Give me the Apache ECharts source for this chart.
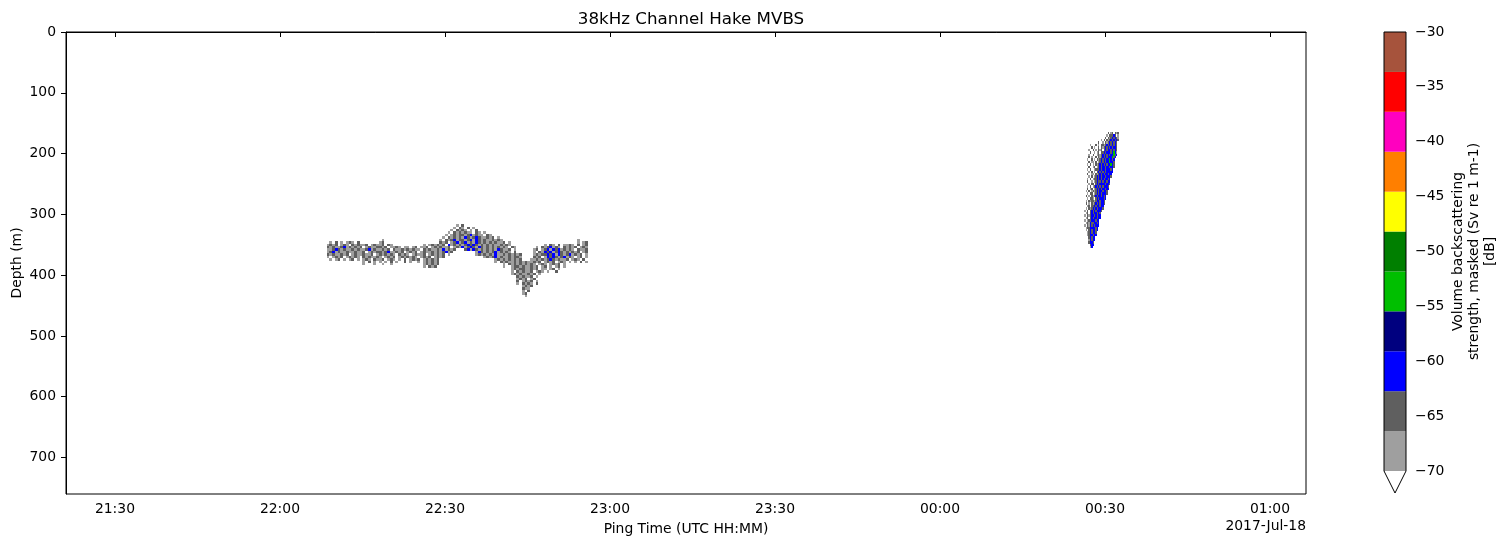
<!DOCTYPE html>
<html><head><meta charset="utf-8">
<script src="https://cdn.jsdelivr.net/npm/echarts@6/dist/echarts.min.js"></script>
<style>html,body{margin:0;padding:0;background:#fff}#c{width:1507px;height:547px}</style>
</head><body><div id="c"></div>
<script>
// ---------- data ----------
const titleText = '38kHz Channel Hake MVBS';
const xName = 'Ping Time (UTC HH:MM)';
const yName = 'Depth (m)';
const cbName = 'Volume backscattering\nstrength, masked (Sv re 1 m-1)\n[dB]';
const dateText = '2017-Jul-18';
// time in minutes after 2017-07-17 00:00 UTC
const xMin = 1281.1, xMax = 1506.55;
const xTickValues = [1290, 1320, 1350, 1380, 1410, 1440, 1470, 1500];
const xTickLabels = ['21:30', '22:00', '22:30', '23:00', '23:30', '00:00', '00:30', '01:00'];
const yMin = 0, yMax = 760;
const yTickValues = [0, 100, 200, 300, 400, 500, 600, 700];
const cbEdges = [-70, -66.36, -62.73, -59.09, -55.45, -51.82, -48.18, -44.55, -40.91, -37.27, -33.64, -30];
const cbColors = ['#9f9f9f', '#5f5f5f', '#0000ff', '#00007f', '#00bf00', '#007f00', '#ffff00', '#ff7f00', '#ff00bf', '#ff0000', '#a6533c'];
const cbTicks = [-70, -65, -60, -55, -50, -45, -40, -35, -30];
// Sv (dB) of each grid character
const svCodes = { a: -68, b: -64.5, c: -61, d: -57, e: -53.5 };

// School A (22:08 -> 22:58), cells of 0.5 min x 4 m, rows from 316 m down
const schoolA_t0 = 1328, schoolA_dt = 0.5, schoolA_z0 = 316, schoolA_dz = 4;
const schoolA_rows = [
'..........|..........|..........|..........|........a.|b.........',
'..........|..........|..........|..........|.......a.b|a.b.a.....',
'..........|..........|..........|..........|......a.ba|ba.a.b....',
'..........|..........|..........|..........|.....a.bab|abaa.ba.a.',
'..........|..........|..........|..........|....a.abab|babcabaa.b|a.........',
'..........|..........|..........|..........|...a.babab|acbabcbaab|ab.a......',
'..........|..........|.a........|..........|..a.babcab|babcacbaba|ababa.....|..........|..........|..a.......',
'..a.b.a.ab|a.b.......|ab........|..........|..bab.abca|bcabacbaba|babaab.a..|..........|..........|..a.ab....',
'.abab.aba.|babaab.aba|ab.ba.....|......a.ab|abab.cabab|abcbcbabab|abaababa..|..........|a.ba.b.aab|a.b.ab....',
'.babaabcab|abab.abaab|bab.aaba.a|a.ab.aab.a|babaab.aba|cabcbacbab|abababa.ba|.......a.b|abcaba.bab|ab.aba....',
'.aabcbabaa|babaabcaba|abab.baaba|babaa.baba|abacabab..|.bcacbabab|abacbaab.a|......ab.a|bcacbcabab|a.baab....',
'.abcabaaba|abaab.abab|babcaabab.|abab.abaab|ababcab...|.....acbab|abcababa.b|......a.ba|cbcabcbaba|bab.ab....',
'.babaabab.|abaabaab.a|bababa.bab|a.abaab.ab|abab.a....|.....ababa|bacaababab|ab....abab|bcbcacbabc|abab.a....',
'.a.abab.ab|aba.babaab|a.abab.aba|baba.abab.|abab......|........ab|abcabaabab|ba....bab.|acbcbabcab|a.ab.a....',
'..a.ab.a.a|b.a.aba.ba|ab.aba.a.b|.abab.abab|ab........|..........|..abababab|ab...aabab|abcbabaab.|aba.b.....',
'..........|....a.b.a.|a.a.b.a..b|.a..a.abab|ab........|..........|..a.babaab|ababaabab.|abab.aba.a|.a.b.a....',
'..........|....a...a.|.a..a.....|......abab|ab........|..........|.....a.bab|abababa.ab|a.abab.a..',
'..........|..........|..........|......a.ba|b.........|..........|.....a..ab|babaabab.a|b.a.ab.a..',
'..........|..........|..........|..........|..........|..........|........ab|abbaabab.a|a.ab.a....',
'..........|..........|..........|..........|..........|..........|........a.|babaab.aba|.a..b.....',
'..........|..........|..........|..........|..........|..........|........ab|abaabab.a.',
'..........|..........|..........|..........|..........|..........|..........|babaab.a..',
'..........|..........|..........|..........|..........|..........|..........|abab.ab...',
'..........|..........|..........|..........|..........|..........|..........|b.abab.a..',
'..........|..........|..........|..........|..........|..........|..........|a.baba.b..',
'..........|..........|..........|..........|..........|..........|..........|..abab....',
'..........|..........|..........|..........|..........|..........|..........|..baa.....',
'..........|..........|..........|..........|..........|..........|..........|..a.b.....',
'..........|..........|..........|..........|..........|..........|..........|..ab......',
'..........|..........|..........|..........|..........|..........|..........|...a......'
];

// School B (00:26 -> 00:33), cells of 0.25 min x 4 m, rows from 164 m down
const schoolB_t0 = 1466, schoolB_dt = 0.25, schoolB_z0 = 164, schoolB_dz = 4;
const schoolB_rows = [
'.......|.......|....b.a|b.bab..',
'.......|.......|...a.bb|bcb.a..',
'.......|.......|..b.bab|cbcba..',
'.......|......a|.b.babc|bcbcb..',
'.......|....b..|a.babcb|cbcb...',
'.....a.|..b.a.b|babcbcb|cbcb...',
'......b|.a..b.b|abcbcbc|bccb...',
'....a..|b.a.bab|.bcbccb|cbcb...',
'.....b.|.a.ab.b|bcbcccb|ceca...',
'....a..|b..abab|cbcbcbc|cebc...',
'....b.a|..b.bab|cbcbccc|ebc....',
'...a..b|.a.babc|bcbccec|bc.....',
'....b.a|a.b.abc|bcbccec|cb.....',
'...a.b.|a.babcb|cbcbcce|cb.....',
'....b..|ab.abcb|ccbccbc|cb.....',
'...a.b.|.abbbcb|ccbcccb|c......',
'....a.b|.a.bcbc|bcbcccc|c......',
'...b..a|a.babcb|cbccbcc|.......',
'....a.b|.abcbcb|ccbcccb|.......',
'...a.b.|abbcbcb|cbccbc.|.......',
'...b..a|.abcbbc|bccbcc.|.......',
'....a.b|b.bcbcc|ccbccb.|.......',
'...a.b.|abcbcbc|bcccb..|.......',
'...b.ab|.abcbcb|ccbcc..|.......',
'..a.b.a|babcbcc|bccb...|.......',
'...a.bb|.abcbcb|cccb...|.......',
'..b.a.b|abcbccb|cbc....|.......',
'...a.bb|a.bcbcc|cbc....|.......',
'..a.bab|babccbc|cb.....|.......',
'..b.a.b|abcbcbc|cb.....|.......',
'...ab.b|bcbccbc|c......|.......',
'..a.bab|cbcbccc|b......|.......',
'.a.b.bc|bcbcccb|.......|.......',
'..ab.bc|bccbcb.|.......|.......',
'.a.babc|cbcbcc.|.......|.......',
'..ab.bc|bccbcc.|.......|.......',
'.a.abbc|ccbcc..|.......|.......',
'..abacb|bccbc..|.......|.......',
'.a.bacb|cbccc..|.......|.......',
'..abbcc|ccbc...|.......|.......',
'..a.bcb|ccbc...|.......|.......',
'...abcb|ccb....|.......|.......',
'...abcc|bcc....|.......|.......',
'....bcb|cc.....|.......|.......',
'....acb|cc.....|.......|.......',
'....bcc|b......|.......|.......',
'.....bc|c......|.......|.......',
'.....ac|.......|.......|.......'
];

// ---------- build ----------
const FONT = "'DejaVu Sans', 'Liberation Sans', sans-serif";
function parseGrid(rows, t0, dt, z0, dz) {
  const out = [];
  rows.forEach((row, r) => {
    const s = row.replace(/\|/g, '');
    for (let c = 0; c < s.length; c++) {
      const v = svCodes[s[c]];
      if (v !== undefined) out.push([t0 + c * dt, z0 + r * dz, v]);
    }
  });
  return out;
}
function colorFor(v) {
  for (let i = 0; i < cbColors.length; i++) {
    if (v >= cbEdges[i] && v < cbEdges[i + 1]) return cbColors[i];
  }
  return v >= cbEdges[cbEdges.length - 1] ? cbColors[cbColors.length - 1] : '#ffffff';
}
function cellRenderer(dt, dz) {
  return function (params, api) {
    const t = api.value(0), z = api.value(1), v = api.value(2);
    const p0 = api.coord([t, z]);
    const p1 = api.coord([t + dt, z + dz]);
    const x0 = Math.round(Math.min(p0[0], p1[0])), x1 = Math.round(Math.max(p0[0], p1[0]));
    const y0 = Math.round(Math.min(p0[1], p1[1])), y1 = Math.round(Math.max(p0[1], p1[1]));
    return { type: 'rect', shape: { x: x0, y: y0, width: Math.max(1, x1 - x0), height: Math.max(1, y1 - y0) },
      style: { fill: colorFor(v) } };
  };
}
const dataA = parseGrid(schoolA_rows, schoolA_t0, schoolA_dt, schoolA_z0, schoolA_dz);
const dataB = parseGrid(schoolB_rows, schoolB_t0, schoolB_dt, schoolB_z0, schoolB_dz);
const cbData = cbColors.map((col, i) => [cbEdges[i], cbEdges[i + 1], i]);

const txt = { fontFamily: FONT, fontSize: 13.9, color: '#000' };
const chart = echarts.init(document.getElementById('c'), null, { renderer: 'canvas' });
chart.setOption({
  animation: false,
  backgroundColor: '#fff',
  title: { text: titleText, left: 686, top: 6, textAlign: 'center',
    textStyle: { fontFamily: FONT, fontSize: 16.7, fontWeight: 'normal', color: '#000' } },
  grid: [
    { left: 66, top: 32, width: 1240, height: 462, show: true, borderColor: '#000', borderWidth: 1,
      backgroundColor: 'transparent', containLabel: false, outerBoundsMode: 'none' },
    { left: 1384, top: 32, width: 22, height: 439, containLabel: false, outerBoundsMode: 'none' }
  ],
  xAxis: [
    { type: 'value', gridIndex: 0, min: xMin, max: xMax,
      name: xName, nameLocation: 'middle', nameGap: 28, nameMoveOverlap: false, nameTextStyle: txt,
      axisLine: { show: true, lineStyle: { color: '#000', width: 1 } },
      axisTick: { show: true, inside: false, length: 5, customValues: xTickValues, lineStyle: { color: '#000' } },
      axisLabel: { ...txt, margin: 8, customValues: xTickValues,
        formatter: v => xTickLabels[xTickValues.indexOf(v)] },
      splitLine: { show: false } },
    { type: 'value', gridIndex: 1, min: 0, max: 1, show: false }
  ],
  yAxis: [
    { type: 'value', gridIndex: 0, inverse: true, min: yMin, max: yMax,
      name: yName, nameLocation: 'middle', nameGap: 42, nameRotate: 90, nameMoveOverlap: false, nameTextStyle: txt,
      axisLine: { show: true, lineStyle: { color: '#000', width: 1 } },
      axisTick: { show: true, inside: false, length: 5, customValues: yTickValues, lineStyle: { color: '#000' } },
      axisLabel: { ...txt, margin: 10, customValues: yTickValues },
      splitLine: { show: false } },
    { type: 'value', gridIndex: 1, min: cbTicks[0], max: cbTicks[cbTicks.length - 1], interval: 5, position: 'right',
      name: cbName, nameLocation: 'middle', nameGap: 44, nameRotate: 90, nameMoveOverlap: false,
      nameTextStyle: { ...txt, lineHeight: 16, align: 'center' },
      axisLine: { show: false },
      axisTick: { show: true, inside: false, length: 5, lineStyle: { color: '#000' } },
      axisLabel: { ...txt, margin: 9, formatter: v => String(v).replace('-', '\u2212') },
      splitLine: { show: false } }
  ],
  graphic: [
    { type: 'text', right: 1507 - 1306, top: 519, style: { text: dateText, font: '13.9px ' + FONT, fill: '#000' } }
  ],
  series: [
    { type: 'custom', name: 'school A', xAxisIndex: 0, yAxisIndex: 0, clip: true,
      dimensions: ['t', 'z', 'sv'], encode: { x: 0, y: 1 },
      renderItem: cellRenderer(schoolA_dt, schoolA_dz), data: dataA },
    { type: 'custom', name: 'school B', xAxisIndex: 0, yAxisIndex: 0, clip: true,
      dimensions: ['t', 'z', 'sv'], encode: { x: 0, y: 1 },
      renderItem: cellRenderer(schoolB_dt, schoolB_dz), data: dataB },
    { type: 'custom', name: 'colorbar', xAxisIndex: 1, yAxisIndex: 1,
      dimensions: ['lo', 'hi', 'i'], encode: { y: [0, 1] },
      renderItem: function (params, api) {
        const lo = api.value(0), hi = api.value(1), i = api.value(2);
        const p0 = api.coord([0, lo]), p1 = api.coord([1, hi]);
        return { type: 'rect', shape: { x: p0[0], y: p1[1], width: p1[0] - p0[0], height: p0[1] - p1[1] },
          style: { fill: cbColors[i] } };
      }, data: cbData },
    { type: 'custom', name: 'colorbar outline', xAxisIndex: 1, yAxisIndex: 1,
      dimensions: ['lo', 'hi'], encode: { y: [0, 1] }, z: 5,
      renderItem: function (params, api) {
        const a = api.coord([0, api.value(1)]), b = api.coord([1, api.value(0)]);
        const xm = (a[0] + b[0]) / 2, tip = b[1] + 22;
        return { type: 'group', children: [
          { type: 'polygon', shape: { points: [[a[0], b[1]], [b[0], b[1]], [xm, tip]] }, style: { fill: '#fff' } },
          { type: 'polygon', shape: { points: [[a[0], a[1]], [b[0], a[1]], [b[0], b[1]], [xm, tip], [a[0], b[1]]] },
            style: { fill: 'none', stroke: '#000', lineWidth: 1 } }
        ] };
      }, data: [[cbEdges[0], cbEdges[cbEdges.length - 1]]] }
  ]
});
</script>
</body></html>
